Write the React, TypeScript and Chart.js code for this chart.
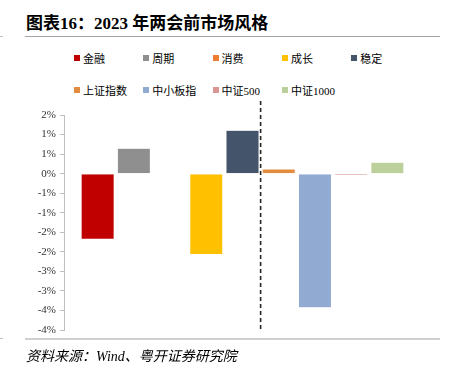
import React, { useEffect, useRef } from "react";
import { Chart, registerables } from "chart.js";

Chart.register(...registerables);

const seriesNames = ["金融", "周期", "消费", "成长", "稳定", "上证指数", "中小板指", "中证500", "中证1000"];
const seriesValues = [-1.68, 0.65, 0.01, -2.07, 1.11, 0.12, -3.43, -0.05, 0.29];
const seriesColors = ["#C00000", "#8F8F8F", "#ED7D31", "#FFC000", "#44546A", "#E38B3F", "#91AAD2", "#D99694", "#BBD09A"];
const categories = [""];
const yMin = -4;
const yMax = 1.5;
const yStep = 0.5;
const legendRows = [[0, 1, 2, 3, 4], [5, 6, 7, 8]];

const FONT = '"Liberation Serif", "Times New Roman", "Noto Sans CJK SC", serif';

const dividerPlugin = {
  id: "divider",
  afterDatasetsDraw(chart: any) {
    const a = chart.getDatasetMeta(4).data[0];
    const b = chart.getDatasetMeta(5).data[0];
    if (!a || !b) return;
    const x = (a.x + a.width / 2 + (b.x - b.width / 2)) / 2;
    const { ctx, chartArea } = chart;
    ctx.save();
    ctx.strokeStyle = "#262626";
    ctx.lineWidth = 1.6;
    ctx.setLineDash([4, 3]);
    ctx.beginPath();
    ctx.moveTo(x, chartArea.top - 14);
    ctx.lineTo(x, chartArea.bottom);
    ctx.stroke();
    ctx.restore();
  },
};

function fmt(v: number) {
  const r = Math.sign(v) * Math.round(Math.abs(v));
  return (r === 0 ? 0 : r) + "%";
}

export default function App() {
  const ref = useRef<HTMLCanvasElement>(null);
  useEffect(() => {
    document.body.style.margin = "0";
    const chart = new Chart(ref.current!, {
      type: "bar",
      data: {
        labels: categories,
        datasets: seriesNames.map((n, i) => ({
          label: n,
          data: [seriesValues[i]],
          backgroundColor: seriesColors[i],
          borderColor: "rgba(255,255,255,0.6)",
          borderWidth: 0.5,
          barPercentage: 0.912,
          categoryPercentage: 0.913,
        })),
      },
      options: {
        animation: false,
        responsive: false,
        maintainAspectRatio: false,
        layout: { padding: { left: 0, right: 28, top: 20, bottom: 15 } },
        plugins: { legend: { display: false }, tooltip: { enabled: false }, title: { display: false } },
        scales: {
          x: { type: "category", display: false },
          y: {
            min: yMin,
            max: yMax,
            afterFit(scale: any) {
              scale.width = 64;
            },
            ticks: {
              stepSize: yStep,
              callback: (v: any) => fmt(Number(v)),
              color: "#333",
              font: { family: FONT, size: 11 },
              padding: 4,
            },
            grid: { drawOnChartArea: false, drawTicks: true, tickLength: 4, color: "#BFBFBF" },
            border: { display: true, color: "#BFBFBF", width: 1 },
          },
        },
      },
      plugins: [dividerPlugin],
    } as any);
    return () => chart.destroy();
  }, []);

  return (
    <div style={{ position: "relative", width: 449, height: 369, background: "#fff", fontFamily: FONT, overflow: "hidden" }}>
      <div style={{ position: "absolute", left: 26, top: 12, fontSize: 17, fontWeight: "bold", color: "#000", whiteSpace: "nowrap", lineHeight: "24px" }}>
        图表16：2023 年两会前市场风格
      </div>
      <div style={{ position: "absolute", left: 25, top: 36, width: 415, height: 1, background: "#A6A6A6" }} />
      <div style={{ position: "absolute", left: 0, top: 36, width: 3, height: 1, background: "#BFBFBF" }} />
      {legendRows.map((row, ri) =>
        row.map((si, ci) => (
          <div
            key={si}
            style={{
              position: "absolute",
              left: 74 + ci * 69.3,
              top: (ri === 0 ? 58 : 90) - 8,
              height: 16,
              display: "flex",
              alignItems: "center",
              whiteSpace: "nowrap",
              fontSize: 11,
              color: "#000",
            }}
          >
            <span style={{ display: "inline-block", width: 6, height: 6, background: seriesColors[si], marginRight: 3 }} />
            <span>{seriesNames[si]}</span>
          </div>
        ))
      )}
      <canvas ref={ref} width={449} height={250} style={{ position: "absolute", left: 0, top: 95, width: 449, height: 250 }} />
      <div style={{ position: "absolute", left: 25, top: 338, width: 415, height: 2, background: "#D0D0D0" }} />
      <div style={{ position: "absolute", left: 0, top: 338, width: 3, height: 1, background: "#BFBFBF" }} />
      <div style={{ position: "absolute", left: 26, top: 347, fontSize: 14, fontStyle: "italic", color: "#000", whiteSpace: "nowrap", lineHeight: "20px" }}>
        资料来源：Wind、粤开证券研究院
      </div>
    </div>
  );
}
